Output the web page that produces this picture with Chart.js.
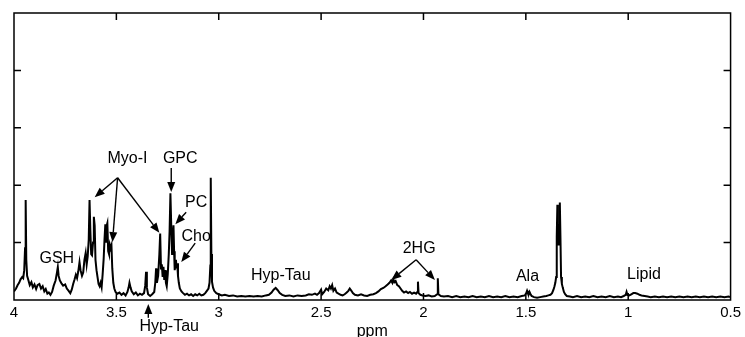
<!DOCTYPE html>
<html>
<head>
<meta charset="utf-8">
<script src="https://cdn.jsdelivr.net/npm/chart.js@4.4.0/dist/chart.umd.min.js"></script>
<style>
  body { margin: 0; background: #fff; }
  #spec { display: block; }
</style>
</head>
<body>
<canvas id="spec" width="745" height="337"></canvas>
<script>
// chemical shift (ppm) and intensity
var ppm = [
  4.000, 3.990, 3.982, 3.975, 3.968, 3.960, 3.955, 3.950, 3.946, 3.943, 3.940, 3.936, 3.930, 3.923, 3.915, 3.908,
  3.900, 3.892, 3.885, 3.876, 3.868, 3.860, 3.852, 3.845, 3.837, 3.830, 3.822, 3.814, 3.806, 3.797, 3.790, 3.786,
  3.782, 3.776, 3.768, 3.760, 3.750, 3.742, 3.733, 3.725, 3.718, 3.711, 3.704, 3.698, 3.692, 3.686, 3.680, 3.675,
  3.668, 3.662, 3.656, 3.650, 3.645, 3.640, 3.635, 3.631, 3.627, 3.623, 3.619, 3.614, 3.610, 3.606, 3.602, 3.597,
  3.592, 3.587, 3.582, 3.577, 3.572, 3.567, 3.562, 3.558, 3.554, 3.551, 3.547, 3.544, 3.540, 3.536, 3.532, 3.528,
  3.524, 3.520, 3.515, 3.510, 3.504, 3.495, 3.485, 3.475, 3.465, 3.455, 3.446, 3.440, 3.436, 3.431, 3.425, 3.415,
  3.405, 3.395, 3.385, 3.375, 3.365, 3.359, 3.355, 3.351, 3.345, 3.335, 3.325, 3.315, 3.310, 3.306, 3.302, 3.296,
  3.290, 3.286, 3.282, 3.278, 3.274, 3.270, 3.266, 3.262, 3.258, 3.254, 3.249, 3.244, 3.240, 3.236, 3.232, 3.228,
  3.224, 3.221, 3.218, 3.215, 3.212, 3.209, 3.206, 3.203, 3.199, 3.195, 3.190, 3.182, 3.174, 3.165, 3.155, 3.145,
  3.135, 3.125, 3.115, 3.105, 3.095, 3.085, 3.075, 3.066, 3.058, 3.050, 3.045, 3.041, 3.039, 3.036, 3.033, 3.028,
  3.022, 3.012, 3.000, 2.985, 2.970, 2.950, 2.930, 2.910, 2.890, 2.870, 2.850, 2.830, 2.810, 2.790, 2.770, 2.755,
  2.742, 2.732, 2.722, 2.712, 2.702, 2.690, 2.675, 2.655, 2.635, 2.615, 2.595, 2.575, 2.560, 2.545, 2.530, 2.520,
  2.510, 2.500, 2.495, 2.485, 2.475, 2.465, 2.458, 2.452, 2.446, 2.440, 2.432, 2.424, 2.415, 2.405, 2.395, 2.385,
  2.375, 2.367, 2.360, 2.352, 2.345, 2.335, 2.320, 2.305, 2.290, 2.275, 2.260, 2.245, 2.232, 2.220, 2.208, 2.196,
  2.185, 2.175, 2.166, 2.158, 2.152, 2.147, 2.142, 2.136, 2.128, 2.120, 2.112, 2.104, 2.095, 2.085, 2.075, 2.066,
  2.056, 2.046, 2.036, 2.030, 2.027, 2.024, 2.015, 2.005, 1.990, 1.975, 1.960, 1.945, 1.933, 1.930, 1.927, 1.915,
  1.900, 1.880, 1.860, 1.840, 1.820, 1.800, 1.780, 1.760, 1.740, 1.720, 1.700, 1.680, 1.660, 1.640, 1.620, 1.600,
  1.580, 1.560, 1.540, 1.520, 1.505, 1.498, 1.494, 1.490, 1.486, 1.482, 1.478, 1.472, 1.460, 1.445, 1.430, 1.415,
  1.400, 1.390, 1.380, 1.372, 1.365, 1.360, 1.356, 1.352, 1.349, 1.346, 1.344, 1.342, 1.340, 1.337, 1.334, 1.331,
  1.328, 1.324, 1.320, 1.314, 1.308, 1.300, 1.285, 1.270, 1.250, 1.230, 1.210, 1.190, 1.170, 1.150, 1.130, 1.110,
  1.090, 1.070, 1.050, 1.035, 1.022, 1.012, 1.008, 1.004, 0.995, 0.985, 0.975, 0.966, 0.955, 0.945, 0.935, 0.920,
  0.905, 0.890, 0.870, 0.850, 0.830, 0.810, 0.790, 0.770, 0.750, 0.730, 0.710, 0.690, 0.670, 0.650, 0.630, 0.610,
  0.590, 0.570, 0.550, 0.530, 0.510, 0.500
];
var intensity = [
  0.15, 0.20, 0.26, 0.30, 0.36, 0.40, 0.38, 0.52, 0.90, 1.74, 0.70, 0.42, 0.35, 0.26, 0.31, 0.22,
  0.27, 0.19, 0.26, 0.28, 0.20, 0.24, 0.15, 0.19, 0.11, 0.13, 0.09, 0.14, 0.25, 0.34, 0.48, 0.57,
  0.42, 0.34, 0.29, 0.25, 0.27, 0.20, 0.16, 0.12, 0.18, 0.28, 0.36, 0.44, 0.38, 0.50, 0.66, 0.52,
  0.42, 0.48, 0.70, 0.82, 0.62, 0.76, 1.05, 1.74, 1.20, 0.80, 0.78, 1.00, 1.45, 1.30, 0.70, 0.52,
  0.40, 0.28, 0.24, 0.30, 0.22, 0.45, 0.72, 1.05, 1.32, 1.00, 1.30, 1.34, 0.85, 0.80, 0.96, 0.90,
  0.95, 0.55, 0.30, 0.20, 0.14, 0.11, 0.13, 0.09, 0.12, 0.08, 0.14, 0.22, 0.30, 0.22, 0.15, 0.10,
  0.13, 0.08, 0.11, 0.09, 0.12, 0.25, 0.49, 0.22, 0.10, 0.07, 0.10, 0.14, 0.30, 0.55, 0.30, 0.42,
  0.80, 1.16, 0.55, 0.62, 0.40, 0.58, 0.35, 0.52, 0.30, 0.24, 0.45, 0.80, 1.20, 1.86, 1.30, 0.80,
  1.10, 1.30, 0.85, 0.52, 0.60, 0.70, 0.55, 0.64, 0.42, 0.30, 0.20, 0.15, 0.12, 0.09, 0.11, 0.08,
  0.10, 0.07, 0.10, 0.08, 0.11, 0.08, 0.09, 0.12, 0.16, 0.20, 0.30, 0.60, 2.13, 0.80, 0.32, 0.22,
  0.16, 0.12, 0.10, 0.08, 0.09, 0.07, 0.08, 0.06, 0.07, 0.06, 0.07, 0.06, 0.07, 0.06, 0.08, 0.09,
  0.13, 0.18, 0.21, 0.17, 0.12, 0.09, 0.07, 0.08, 0.06, 0.08, 0.07, 0.08, 0.10, 0.09, 0.11, 0.09,
  0.12, 0.18, 0.10, 0.14, 0.20, 0.17, 0.24, 0.20, 0.26, 0.16, 0.20, 0.13, 0.11, 0.09, 0.08, 0.10,
  0.13, 0.16, 0.20, 0.16, 0.12, 0.09, 0.08, 0.10, 0.08, 0.07, 0.09, 0.10, 0.12, 0.15, 0.19, 0.21,
  0.24, 0.27, 0.30, 0.34, 0.30, 0.36, 0.31, 0.33, 0.26, 0.24, 0.20, 0.16, 0.13, 0.15, 0.12, 0.14,
  0.11, 0.13, 0.11, 0.14, 0.32, 0.12, 0.09, 0.08, 0.07, 0.08, 0.06, 0.07, 0.10, 0.38, 0.10, 0.07,
  0.06, 0.07, 0.05, 0.07, 0.05, 0.06, 0.05, 0.07, 0.05, 0.06, 0.05, 0.07, 0.05, 0.06, 0.05, 0.07,
  0.05, 0.06, 0.05, 0.07, 0.08, 0.12, 0.16, 0.12, 0.10, 0.14, 0.11, 0.07, 0.05, 0.04, 0.05, 0.06,
  0.07, 0.08, 0.09, 0.12, 0.18, 0.24, 0.30, 0.40, 1.10, 1.66, 1.20, 1.00, 0.95, 1.30, 1.70, 1.10,
  0.40, 0.28, 0.22, 0.14, 0.10, 0.07, 0.06, 0.05, 0.07, 0.05, 0.06, 0.05, 0.07, 0.05, 0.06, 0.05,
  0.07, 0.05, 0.06, 0.05, 0.07, 0.09, 0.14, 0.09, 0.08, 0.10, 0.12, 0.12, 0.11, 0.09, 0.08, 0.07,
  0.06, 0.05, 0.06, 0.05, 0.06, 0.05, 0.06, 0.05, 0.06, 0.05, 0.06, 0.05, 0.06, 0.05, 0.06, 0.05,
  0.06, 0.05, 0.06, 0.05, 0.06, 0.05
];

// peak labels, placed in ppm / intensity units
var labelText = ['GSH', 'Myo-I', 'GPC', 'PC', 'Cho', 'Hyp-Tau', 'Hyp-Tau', '2HG', 'Ala', 'Lipid'];
var labelPpm = [3.791, 3.446, 3.188, 3.110, 3.110, 3.242, 2.697, 2.021, 1.492, 0.923];
var labelY = [0.73, 2.47, 2.47, 1.69, 1.11, -0.47, 0.42, 0.89, 0.40, 0.44];

// arrows: start -> tip
var arrowFromPpm = [3.494, 3.494, 3.494, 3.232, 3.159, 3.115, 3.344, 2.036, 2.036];
var arrowFromY = [2.13, 2.13, 2.13, 2.30, 1.53, 0.99, -0.31, 0.70, 0.70];
var arrowToPpm = [3.606, 3.519, 3.290, 3.232, 3.212, 3.183, 3.344, 2.157, 1.944];
var arrowToY = [1.79, 1.01, 1.17, 1.88, 1.32, 0.66, -0.07, 0.35, 0.35];

var points = [];
for (var i = 0; i < ppm.length; i++) {
  points.push({x: ppm[i], y: intensity[i]});
}

var FONT = '"Liberation Sans", Arial, Helvetica, sans-serif';

function arrow(ctx, x1, y1, x2, y2) {
  var a = Math.atan2(y2 - y1, x2 - x1);
  var len = 10, half = 4;
  var bx = x2 - len * Math.cos(a), by = y2 - len * Math.sin(a);
  ctx.beginPath();
  ctx.moveTo(x1, y1);
  ctx.lineTo(bx, by);
  ctx.stroke();
  ctx.beginPath();
  ctx.moveTo(x2, y2);
  ctx.lineTo(bx + half * Math.sin(a), by - half * Math.cos(a));
  ctx.lineTo(bx - half * Math.sin(a), by + half * Math.cos(a));
  ctx.closePath();
  ctx.fill();
}

var frame = {
  id: 'frame',
  afterDraw: function(chart) {
    var ctx = chart.ctx, a = chart.chartArea;
    var xs = chart.scales.x, ys = chart.scales.y;
    ctx.save();
    ctx.strokeStyle = '#000';
    ctx.fillStyle = '#000';
    ctx.lineWidth = 1.5;
    ctx.strokeRect(a.left, a.top, a.right - a.left, a.bottom - a.top);

    // inward ticks
    xs.ticks.forEach(function(t) {
      var px = xs.getPixelForValue(t.value);
      if (px <= a.left + 1 || px >= a.right - 1) return;
      ctx.beginPath();
      ctx.moveTo(px, a.top); ctx.lineTo(px, a.top + 7);
      ctx.moveTo(px, a.bottom); ctx.lineTo(px, a.bottom - 7);
      ctx.stroke();
    });
    ys.ticks.forEach(function(t) {
      var py = ys.getPixelForValue(t.value);
      if (py <= a.top + 1 || py >= a.bottom - 1) return;
      ctx.beginPath();
      ctx.moveTo(a.left, py); ctx.lineTo(a.left + 7, py);
      ctx.moveTo(a.right, py); ctx.lineTo(a.right - 7, py);
      ctx.stroke();
    });

    ctx.lineWidth = 1.4;
    for (var k = 0; k < arrowFromPpm.length; k++) {
      arrow(ctx, xs.getPixelForValue(arrowFromPpm[k]), ys.getPixelForValue(arrowFromY[k]),
        xs.getPixelForValue(arrowToPpm[k]), ys.getPixelForValue(arrowToY[k]));
    }

    ctx.font = '16px ' + FONT;
    ctx.textAlign = 'center';
    ctx.textBaseline = 'middle';
    for (var j = 0; j < labelText.length; j++) {
      ctx.fillText(labelText[j], xs.getPixelForValue(labelPpm[j]), ys.getPixelForValue(labelY[j]));
    }

    ctx.textBaseline = 'top';
    ctx.fillText('ppm', (a.left + a.right) / 2, a.bottom + 24);
    ctx.restore();
  }
};

new Chart(document.getElementById('spec'), {
  type: 'line',
  data: {
    datasets: [{
      data: points,
      borderColor: '#000',
      borderWidth: 2,
      pointRadius: 0,
      tension: 0,
      fill: false
    }]
  },
  options: {
    responsive: false,
    animation: false,
    devicePixelRatio: 1,
    layout: {padding: {left: 14, right: 11, top: 13, bottom: 0}},
    plugins: {legend: {display: false}, tooltip: {enabled: false}},
    scales: {
      x: {
        type: 'linear',
        reverse: true,
        min: 0.5,
        max: 4,
        grid: {display: false, drawTicks: false},
        border: {display: false},
        ticks: {stepSize: 0.5, autoSkip: false, maxRotation: 0, padding: 4, color: '#000',
          font: {family: FONT, size: 15},
          callback: function(v) { return String(v); }},
        afterFit: function(s) { s.height = 37; }
      },
      y: {
        min: 0,
        max: 5,
        grid: {display: false, drawTicks: false},
        border: {display: false},
        ticks: {stepSize: 1, display: false},
        afterFit: function(s) { s.width = 0; }
      }
    }
  },
  plugins: [frame]
});
</script>
</body>
</html>
